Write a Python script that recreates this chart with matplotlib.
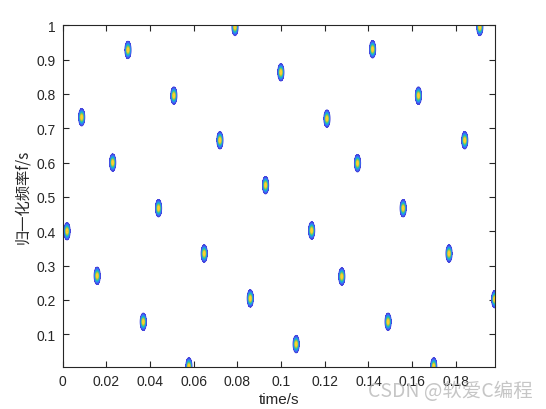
import numpy as np
import matplotlib
matplotlib.use('Agg')
import matplotlib.pyplot as plt
from matplotlib.colors import LinearSegmentedColormap

# spot centres (time in s, normalised frequency)
t_centres = [0.0020, 0.0087, 0.0158, 0.0229, 0.0299, 0.0369, 0.0439,
             0.0509, 0.0578, 0.0648, 0.0720, 0.0789, 0.0859, 0.0929,
             0.0999, 0.1069, 0.1140, 0.1210, 0.1278, 0.1350, 0.1419,
             0.1490, 0.1559, 0.1629, 0.1699, 0.1769, 0.1841, 0.1910, 0.1978]
f_centres = [0.400, 0.732, 0.270, 0.600, 0.928, 0.136, 0.467,
             0.795, 0.006, 0.335, 0.665, 0.995, 0.204, 0.534,
             0.863, 0.071, 0.402, 0.728, 0.268, 0.598, 0.930,
             0.136, 0.467, 0.795, 0.006, 0.335, 0.665, 0.995, 0.202]

xticks = [0, 0.02, 0.04, 0.06, 0.08, 0.1, 0.12, 0.14, 0.16, 0.18]
xticklabels = ['0', '0.02', '0.04', '0.06', '0.08', '0.1', '0.12', '0.14', '0.16', '0.18']
yticks = [0.1, 0.2, 0.3, 0.4, 0.5, 0.6, 0.7, 0.8, 0.9, 1.0]
yticklabels = ['0.1', '0.2', '0.3', '0.4', '0.5', '0.6', '0.7', '0.8', '0.9', '1']

plt.rcParams['font.family'] = ['Liberation Sans', 'Noto Sans CJK SC', 'DejaVu Sans']

# parula-like colormap
parula = LinearSegmentedColormap.from_list('parula', [
    (0.2422, 0.1504, 0.6603), (0.2810, 0.3228, 0.9579), (0.1786, 0.5289, 0.9682),
    (0.0689, 0.6948, 0.8394), (0.2161, 0.7843, 0.5923), (0.6720, 0.7793, 0.2227),
    (0.9970, 0.7659, 0.2199), (0.9769, 0.9839, 0.0805)])

# energy map built from the spot centres
t = np.linspace(-0.01, 0.21, 2201)
f = np.linspace(-0.05, 1.05, 1101)
sx, sy = 0.00064, 0.0117
Z = np.zeros((len(f), len(t)))
for tc, fc in zip(t_centres, f_centres):
    Z += np.outer(np.exp(-(f - fc) ** 2 / (2 * sy ** 2)), np.exp(-(t - tc) ** 2 / (2 * sx ** 2)))

fig = plt.figure(figsize=(5.46, 4.10), dpi=100)
ax = fig.add_axes([0.1148, 0.103, 0.792, 0.833])
levels = np.linspace(0.1, 1.0, 9)
ax.contourf(t, f, Z, levels=levels, cmap=parula, vmin=0.05, vmax=1.0)
ax.contour(t, f, Z, levels=levels, cmap=parula, vmin=0.0, vmax=1.0, linewidths=0.8)

ax.set_xlim(0, 0.198)
ax.set_ylim(0.005, 1.0)
ax.set_xticks(xticks)
ax.set_xticklabels(xticklabels)
ax.set_yticks(yticks)
ax.set_yticklabels(yticklabels)
ax.tick_params(direction='in', top=True, right=True, length=4, width=0.8,
               labelsize=10, colors='#262626', pad=5)
for s in ax.spines.values():
    s.set_linewidth(0.8)
    s.set_color('#262626')

ax.set_xlabel('time/s', fontsize=11, color='#262626', labelpad=3)
ax.set_ylabel('归一化频率f/s', fontsize=11, color='#262626',
              family=['Noto Sans CJK SC', 'DejaVu Sans'], labelpad=4)

# watermark
fig.text(0.975, 0.045, 'CSDN @软爱C编程', fontsize=14, color='#b8b8b8', alpha=0.8,
         ha='right', va='center', family=['Noto Sans CJK SC', 'DejaVu Sans'])

fig.savefig('out.png', dpi=100)
